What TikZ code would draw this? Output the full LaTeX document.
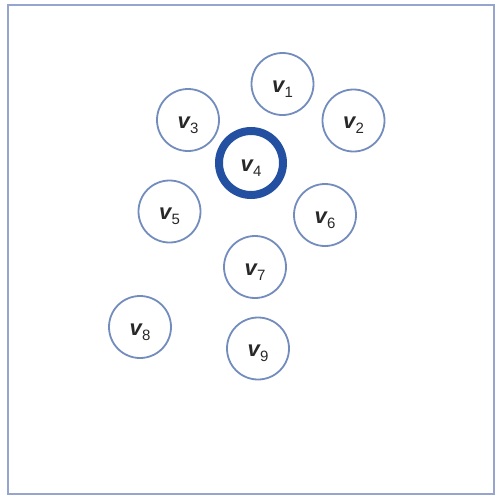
\documentclass[tikz,border=0pt]{standalone}
\usepackage{fontspec}
\setmainfont{Liberation Sans}
\definecolor{frame}{RGB}{150,165,205}
\definecolor{ring}{RGB}{115,140,190}
\definecolor{hub}{RGB}{35,80,160}
\definecolor{ink}{RGB}{40,40,40}
\newcommand{\vlab}[1]{{\fontsize{22}{22}\selectfont\bfseries\itshape v}\kern0.3pt\raisebox{-5pt}{\fontsize{15}{15}\selectfont #1}}
\begin{document}
\begin{tikzpicture}[x=1pt,y=-1pt,
  vert/.style={circle,draw=ring,line width=1.8pt,minimum size=62pt,inner sep=0pt,text=ink,text height=16pt,text depth=0pt},
  hubv/.style={circle,draw=hub,line width=8pt,minimum size=64pt,inner sep=0pt,text=ink,text height=16pt,text depth=0pt}]
\useasboundingbox (0,0) rectangle (495,496);
\draw[frame,line width=2.5pt] (8,5) rectangle (494,494);
\node[vert] (v1) at (282.5,84) {\vlab{1}};
\node[vert] (v2) at (353.5,120.5) {\vlab{2}};
\node[vert] (v3) at (188,120) {\vlab{3}};
\node[hubv] (v4) at (251,163) {\vlab{4}};
\node[vert] (v5) at (169.5,211.5) {\vlab{5}};
\node[vert] (v6) at (325,215) {\vlab{6}};
\node[vert] (v7) at (255,267) {\vlab{7}};
\node[vert] (v8) at (140,327) {\vlab{8}};
\node[vert] (v9) at (258,348.5) {\vlab{9}};
\end{tikzpicture}
\end{document}
